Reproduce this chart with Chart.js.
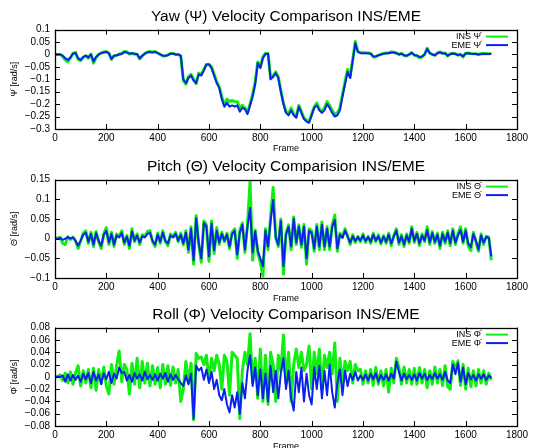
<!DOCTYPE html>
<html lang="en">
<head>
    <meta charset="UTF-8">
    <title>Velocity Comparison INS/EME</title>
    <style>
        * {
            margin: 0;
            padding: 0;
            box-sizing: border-box;
        }

        body {
            width: 535px;
            height: 448px;
            overflow: hidden;
            background: #fff;
            position: relative;
        }

        canvas {
            position: absolute;
            left: 0;
        }

        #yawChart { top: 0; }
        #pitchChart { top: 150px; }
        #rollChart { top: 298px; }
    </style>
</head>
<body>

    <canvas id="yawChart" width="535" height="160"></canvas>
    <canvas id="pitchChart" width="535" height="160"></canvas>
    <canvas id="rollChart" width="535" height="160"></canvas>

    <script src="https://cdn.jsdelivr.net/npm/chart.js"></script>
    <script>
        // one sample every 10 frames, starting at frame 0
        const frameStep = 10;
        const frameTicks = [0, 200, 400, 600, 800, 1000, 1200, 1400, 1600, 1800];

        // Yaw
        const yawTicks = [0.1, 0.05, 0, -0.05, -0.1, -0.15, -0.2, -0.25, -0.3];
        const yawEME = [
            0, 0, 0, -0.005, -0.015, -0.022, -0.012, 0.003, 0.006, -0.015,
            -0.022, -0.01, -0.005, -0.012, 0, -0.028, -0.01, 0, 0.005, 0.008,
            0.01, 0.005, -0.018, -0.005, -0.003, 0, 0.002, 0.01, 0.008, 0.003,
            0.005, 0.003, 0.002, -0.015, -0.005, 0.003, 0.008, 0.01, 0.008, 0.01,
            0.005, 0, -0.005, -0.005, -0.003, 0.003, 0.003, 0, 0, -0.005,
            -0.1, -0.115, -0.095, -0.085, -0.105, -0.115, -0.08, -0.085, -0.065, -0.04,
            -0.04, -0.055, -0.085, -0.115, -0.135, -0.18, -0.21, -0.195, -0.21, -0.205,
            -0.21, -0.205, -0.23, -0.215, -0.22, -0.24, -0.205, -0.17, -0.12, -0.035,
            -0.055, -0.015, 0.002, 0.003, -0.1, -0.09, -0.075, -0.095, -0.15, -0.2,
            -0.235, -0.245, -0.225, -0.245, -0.255, -0.21, -0.235, -0.26, -0.27, -0.275,
            -0.245, -0.215, -0.205, -0.225, -0.235, -0.225, -0.2, -0.215, -0.235, -0.25,
            -0.245, -0.225, -0.17, -0.12, -0.07, -0.095, -0.025, 0.045, 0.01, 0.005,
            0.005, 0.005, 0.005, 0.003, -0.008, -0.008, -0.003, 0, 0.003, 0.005,
            0.005, 0.008, 0.008, 0.005, 0, 0.003, -0.003, -0.005, 0, 0.006,
            -0.002, -0.004, -0.01, -0.008, 0, 0.022, 0.005, 0, -0.003, 0.005,
            0.008, 0.004, 0.005, -0.005, 0.002, 0.004, 0.002, -0.002, 0, -0.008,
            0.004, 0.005, 0.003, 0.002, 0.002, 0, 0.002, 0.003, 0.002, 0.002,
            0.002
        ];
        const yawINS = [
            0, 0, 0, -0.008, -0.022, -0.03, -0.015, 0.005, 0.008, -0.02,
            -0.025, -0.012, -0.005, -0.015, 0.002, -0.035, -0.012, 0, 0.006, 0.01,
            0.012, 0.004, -0.02, -0.006, -0.004, 0.002, 0.004, 0.012, 0.01, 0.002,
            0.004, 0.002, 0, -0.018, -0.006, 0.004, 0.01, 0.012, 0.01, 0.012,
            0.006, 0, -0.006, -0.006, -0.002, 0.004, 0.004, 0, 0, -0.006,
            -0.105, -0.12, -0.09, -0.08, -0.1, -0.118, -0.075, -0.08, -0.06, -0.04,
            -0.04, -0.05, -0.08, -0.11, -0.13, -0.17, -0.205, -0.18, -0.19, -0.185,
            -0.19, -0.19, -0.215, -0.205, -0.215, -0.235, -0.2, -0.16, -0.11, -0.03,
            -0.05, -0.01, 0.005, 0.004, -0.095, -0.085, -0.07, -0.09, -0.145, -0.195,
            -0.23, -0.24, -0.215, -0.24, -0.25, -0.205, -0.23, -0.255, -0.265, -0.27,
            -0.24, -0.21, -0.195, -0.22, -0.23, -0.215, -0.19, -0.205, -0.225, -0.24,
            -0.235, -0.215, -0.16, -0.11, -0.06, -0.09, -0.02, 0.052, 0.012, 0.008,
            0.007, 0.007, 0.006, 0.004, -0.01, -0.009, -0.004, 0, 0.004, 0.006,
            0.006, 0.01, 0.009, 0.006, 0, 0.004, -0.004, -0.006, 0, 0.008,
            -0.003, -0.006, -0.013, -0.01, 0, 0.025, 0.006, 0, -0.004, 0.006,
            0.01, 0.005, 0.006, -0.006, 0.002, 0.005, 0.003, -0.003, 0, -0.01,
            0.005, 0.006, 0.004, 0.003, 0.003, 0, 0.003, 0.004, 0.003, 0.003,
            0.004
        ];

        // Pitch
        const pitchTicks = [0.15, 0.1, 0.05, 0, -0.05, -0.1];
        const pitchEME = [
            0, 0, 0.002, -0.003, 0, 0.004, 0, 0.003, -0.005, -0.018,
            -0.005, 0.01, 0.015, -0.008, 0.012, -0.015, 0.014, -0.005, -0.018, 0.01,
            0.02, -0.01, 0.012, -0.015, 0.008, 0.003, 0.015, -0.01, 0.005, -0.018,
            0.018, -0.005, 0.008, -0.01, 0.006, 0.003, 0.012, 0.015, -0.005, -0.015,
            0.01, -0.008, 0.015, -0.005, -0.012, 0.008, 0.003, 0.012, -0.005, 0.01,
            -0.012, 0.015, -0.028, 0.025, -0.055, 0.052, -0.01, -0.05, 0.04, 0.03,
            -0.045, 0.038, -0.03, 0.02, -0.01, 0.012, -0.005, 0.01, -0.02, 0.012,
            0.02, -0.04, 0.015, 0.035, -0.028, 0.03, 0.078, -0.035, 0.018, -0.03,
            -0.05, -0.07, 0.02, -0.02, 0.045, 0.098, 0.002, -0.015, 0.045, -0.07,
            0.01, 0.03, -0.02, 0.05, -0.01, 0.03, -0.015, 0.03, -0.05, 0.02,
            0.015, -0.025, 0.03, -0.02, 0.035, -0.02, 0.025, -0.02, 0.03, 0.048,
            -0.025, 0.01, 0.002, 0.02, 0.005, -0.01, 0.006, -0.006, 0.004, -0.005,
            0.008, -0.006, 0.004, -0.008, 0.01, -0.005, 0.006, -0.01, 0.005, -0.008,
            0.01, -0.012, 0.005, 0.02, -0.01, 0.006, -0.015, 0.008, -0.008, 0.025,
            -0.006, 0.012, -0.012, 0.008, -0.005, 0.022, -0.01, 0.014, -0.008, 0.01,
            -0.018, 0.012, -0.008, 0.015, -0.012, 0.02, -0.01, 0.008, 0.022, -0.008,
            0.02, -0.012, -0.022, 0.012, -0.005, -0.028, 0.008, -0.01, 0.004, 0.002,
            -0.045
        ];
        const pitchINS = [
            0, 0.002, 0.003, -0.012, -0.015, 0.005, -0.002, 0.004, -0.006, -0.025,
            -0.006, 0.014, 0.02, -0.012, 0.016, -0.02, 0.018, -0.008, -0.025, 0.012,
            0.028, -0.015, 0.016, -0.02, 0.012, 0.005, 0.02, -0.015, 0.008, -0.025,
            0.025, -0.008, 0.012, -0.015, 0.01, 0.005, 0.018, 0.02, -0.008, -0.02,
            0.014, -0.012, 0.02, -0.008, -0.018, 0.012, 0.005, 0.016, -0.008, 0.014,
            -0.016, 0.02, -0.035, 0.03, -0.065, 0.058, -0.015, -0.06, 0.045, 0.035,
            -0.058, 0.045, -0.038, 0.028, -0.015, 0.016, -0.008, 0.014, -0.026, 0.016,
            0.025, -0.05, 0.02, 0.04, -0.035, 0.035, 0.145, -0.055, 0.022, -0.035,
            -0.06, -0.095, 0.025, -0.028, 0.055, 0.13, 0.004, -0.02, 0.05, -0.09,
            0.014, 0.035, -0.028, 0.055, -0.015, 0.035, -0.022, 0.036, -0.065, 0.025,
            0.02, -0.032, 0.036, -0.028, 0.042, -0.028, 0.03, -0.028, 0.035, 0.06,
            -0.032, 0.014, 0.004, 0.025, 0.008, -0.015, 0.01, -0.01, 0.006, -0.008,
            0.012, -0.01, 0.006, -0.012, 0.014, -0.008, 0.01, -0.014, 0.008, -0.012,
            0.014, -0.018, 0.008, 0.025, -0.015, 0.01, -0.02, 0.012, -0.012, 0.03,
            -0.01, 0.016, -0.018, 0.012, -0.008, 0.03, -0.015, 0.018, -0.012, 0.014,
            -0.025, 0.016, -0.012, 0.02, -0.018, 0.025, -0.015, 0.012, 0.03, -0.012,
            0.025, -0.018, -0.03, 0.016, -0.008, -0.032, 0.012, -0.015, 0.006, 0.004,
            -0.055
        ];

        // Roll
        const rollTicks = [0.08, 0.06, 0.04, 0.02, 0, -0.02, -0.04, -0.06, -0.08];
        const rollEME = [
            0, 0, 0, 0.002, -0.008, 0.004, -0.006, 0.003, -0.005, 0.002,
            -0.008, 0.005, -0.004, 0.006, -0.01, 0.008, -0.006, 0.004, -0.012, 0.006,
            -0.004, 0.008, -0.01, 0.005, -0.003, 0.015, 0.006, 0.008, -0.006, 0.003,
            -0.008, 0.006, -0.003, 0.004, -0.006, 0.008, -0.004, 0.003, -0.005, 0.004,
            -0.006, 0.005, -0.003, 0.006, -0.008, 0.004, -0.005, 0.003, -0.004, -0.01,
            -0.015, 0.002, -0.012, 0.005, -0.068, 0.018, 0.01, 0.015, -0.005, 0.012,
            -0.01, 0.008, -0.02, -0.005, -0.03, -0.038, -0.02, -0.045, -0.058, -0.03,
            -0.05, -0.025, -0.06, -0.01, -0.035, 0.01, 0.035, -0.015, 0.015, -0.03,
            0.012, -0.035, 0.005, -0.04, 0.018, -0.025, 0.01, -0.035, 0.006, 0.03,
            -0.02, 0.01, -0.035, -0.055, 0.008, -0.025, 0.015, -0.04, 0.005, -0.03,
            -0.045, 0.015, -0.02, 0.018, -0.035, 0.01, -0.03, 0.02, -0.025, -0.05,
            -0.01, 0.012, -0.03, 0.01, -0.015, 0.005, -0.005, 0.008, -0.006, 0.002,
            -0.005, 0.004, -0.006, 0.005, -0.004, 0.006, -0.008, 0.003, -0.005, 0.004,
            -0.006, 0.005, -0.003, 0.025, 0.008, -0.006, 0.005, -0.004, 0.003, -0.005,
            0.004, -0.006, 0.006, -0.003, 0.005, -0.005, 0.003, -0.004, 0.006, -0.003,
            0.004, -0.005, 0.008, -0.006, -0.01, 0.02, 0.004, 0.022, -0.008, 0.015,
            -0.012, 0.006, -0.004, 0.003, -0.006, 0.004, -0.003, 0.004, -0.005, 0.002,
            -0.002
        ];
        const rollINS = [
            0, 0, 0.003, -0.006, 0.006, -0.01, 0.008, -0.012, 0.006, 0.018,
            -0.015, 0.01, -0.01, 0.012, -0.018, 0.014, -0.022, 0.012, -0.01, 0.016,
            -0.015, -0.028, 0.02, -0.012, 0.018, 0.042, -0.008, 0.02, 0.012, -0.028,
            0.022, -0.012, 0.03, -0.018, 0.025, -0.01, 0.022, -0.015, 0.018, -0.012,
            0.015, -0.018, 0.02, -0.012, 0.018, -0.014, 0.016, -0.01, 0.012, -0.04,
            -0.02, 0.025, -0.01, 0.022, -0.07, 0.038, 0.03, 0.032, 0.02, 0.035,
            -0.005, 0.03, 0.01, 0.035, 0.02, -0.02, 0.035, 0.025, -0.03, 0.04,
            0.035, 0.03, -0.068, 0.01, 0.04, 0.02, 0.07, -0.01, 0.03, -0.035,
            0.045, -0.04, 0.035, -0.045, 0.04, 0.02, -0.04, 0.035, 0.01, 0.068,
            -0.01, 0.04, -0.04, 0.02, 0.045, 0.015, 0.04, 0.01, 0.02, 0.05,
            -0.02, 0.04, 0.005, 0.045, -0.02, 0.035, 0.015, 0.04, 0.005, 0.055,
            -0.04, 0.03, -0.01, 0.025, 0.01, 0.025, -0.01, 0.02, 0.01, 0.012,
            -0.012, 0.01, -0.01, 0.012, -0.014, 0.015, -0.012, 0.01, -0.015, 0.012,
            -0.025, 0.014, -0.01, 0.03, 0.015, -0.012, 0.016, -0.01, 0.012, -0.012,
            0.014, -0.012, 0.015, -0.01, 0.012, -0.018, 0.01, -0.012, 0.016, -0.01,
            0.012, -0.014, 0.018, -0.016, -0.02, 0.025, 0.012, 0.026, -0.014, 0.02,
            -0.02, 0.014, -0.016, 0.01, -0.015, 0.012, -0.01, 0.01, -0.012, 0.006,
            -0.005
        ];

        const insColor = '#11ee11';
        const emeColor = '#0a22ee';

        Chart.defaults.font.family = '"Liberation Sans", Arial, sans-serif';
        Chart.defaults.color = '#000';

        function toPoints(values) {
            return values.map((v, i) => ({ x: i * frameStep, y: v }));
        }

        function tickText(v) {
            return String(v).replace('-', '\u2212');
        }

        // gnuplot style box with inward ticks on all four sides
        const frameBox = {
            id: 'frameBox',
            afterDraw(chart) {
                const { ctx, chartArea: a, scales: { x, y } } = chart;
                ctx.save();
                ctx.strokeStyle = '#000';
                ctx.lineWidth = 1;
                ctx.beginPath();
                x.ticks.forEach(t => {
                    const px = Math.round(x.getPixelForValue(t.value)) + 0.5;
                    ctx.moveTo(px, a.bottom); ctx.lineTo(px, a.bottom - 5);
                    ctx.moveTo(px, a.top); ctx.lineTo(px, a.top + 5);
                });
                y.ticks.forEach(t => {
                    const py = Math.round(y.getPixelForValue(t.value)) + 0.5;
                    ctx.moveTo(a.left, py); ctx.lineTo(a.left + 5, py);
                    ctx.moveTo(a.right, py); ctx.lineTo(a.right - 5, py);
                });
                ctx.stroke();
                ctx.lineWidth = 1.3;
                ctx.strokeRect(Math.round(a.left) + 0.5, Math.round(a.top) + 0.5,
                    Math.round(a.right - a.left), Math.round(a.bottom - a.top));
                ctx.restore();
            }
        };

        // legend inside the plot, top right: text then line sample
        const innerLegend = {
            id: 'innerLegend',
            afterDatasetsDraw(chart) {
                const { ctx, chartArea: a } = chart;
                ctx.save();
                ctx.font = '9px "Liberation Sans", Arial, sans-serif';
                ctx.textAlign = 'right';
                ctx.textBaseline = 'middle';
                chart.data.datasets.forEach((ds, i) => {
                    const ly = a.top + 7 + i * 8.5;
                    ctx.fillStyle = '#000';
                    ctx.fillText(ds.label, a.right - 36, ly);
                    ctx.strokeStyle = ds.borderColor;
                    ctx.lineWidth = 2;
                    ctx.beginPath();
                    ctx.moveTo(a.right - 31, ly);
                    ctx.lineTo(a.right - 9, ly);
                    ctx.stroke();
                });
                ctx.restore();
            }
        };

        function makeChart(id, title, yLabel, insLabel, emeLabel, ins, eme, yTicks, xHeight) {
            const ctx = document.getElementById(id).getContext('2d');
            return new Chart(ctx, {
                type: 'line',
                data: {
                    datasets: [{
                        label: insLabel,
                        data: toPoints(ins),
                        borderColor: insColor,
                        borderWidth: 3,
                        order: 2
                    }, {
                        label: emeLabel,
                        data: toPoints(eme),
                        borderColor: emeColor,
                        borderWidth: 2,
                        order: 1
                    }]
                },
                options: {
                    responsive: false,
                    animation: false,
                    events: [],
                    layout: { padding: { left: 0, right: 18, top: 0, bottom: 0 } },
                    elements: {
                        point: { radius: 0 },
                        line: { tension: 0, borderJoinStyle: 'round' }
                    },
                    plugins: {
                        legend: { display: false },
                        tooltip: { enabled: false },
                        title: {
                            display: true,
                            fullSize: false,
                            text: title,
                            font: { size: 15.5, weight: 'normal' },
                            padding: { top: 7, bottom: 4 }
                        }
                    },
                    scales: {
                        x: {
                            type: 'linear',
                            min: 0,
                            max: 1800,
                            grid: { display: false, drawTicks: false },
                            border: { display: false },
                            afterBuildTicks: s => { s.ticks = frameTicks.map(v => ({ value: v })); },
                            afterFit: s => { s.height = xHeight; },
                            ticks: { font: { size: 10 }, padding: 3, maxRotation: 0, autoSkip: false, callback: v => tickText(v) },
                            title: { display: true, text: 'Frame', font: { size: 9 }, padding: { bottom: 6 } }
                        },
                        y: {
                            min: yTicks[yTicks.length - 1],
                            max: yTicks[0],
                            grid: { display: false, drawTicks: false },
                            border: { display: false },
                            afterBuildTicks: s => { s.ticks = yTicks.map(v => ({ value: v })); },
                            afterFit: s => { s.width = 55; },
                            ticks: { font: { size: 10 }, padding: 5, autoSkip: false, callback: v => tickText(v) },
                            title: { display: true, text: yLabel, font: { size: 9 }, padding: { top: 9 } }
                        }
                    }
                },
                plugins: [frameBox, innerLegend]
            });
        }

        makeChart('yawChart', 'Yaw (\u03A8) Velocity Comparison INS/EME', '\u03A8\u0307 [rad/s]',
            'INS \u03A8\u0307', 'EME \u03A8\u0307', yawINS, yawEME, yawTicks, 31);
        makeChart('pitchChart', 'Pitch (\u0398) Velocity Comparision INS/EME', '\u0398\u0307 [rad/s]',
            'INS \u0398\u0307', 'EME \u0398\u0307', pitchINS, pitchEME, pitchTicks, 32);
        makeChart('rollChart', 'Roll (\u03A6) Velocity Comparison INS/EME', '\u03A6\u0307 [rad/s]',
            'INS \u03A6\u0307', 'EME \u03A6\u0307', rollINS, rollEME, rollTicks, 32);
    </script>

</body>
</html>
